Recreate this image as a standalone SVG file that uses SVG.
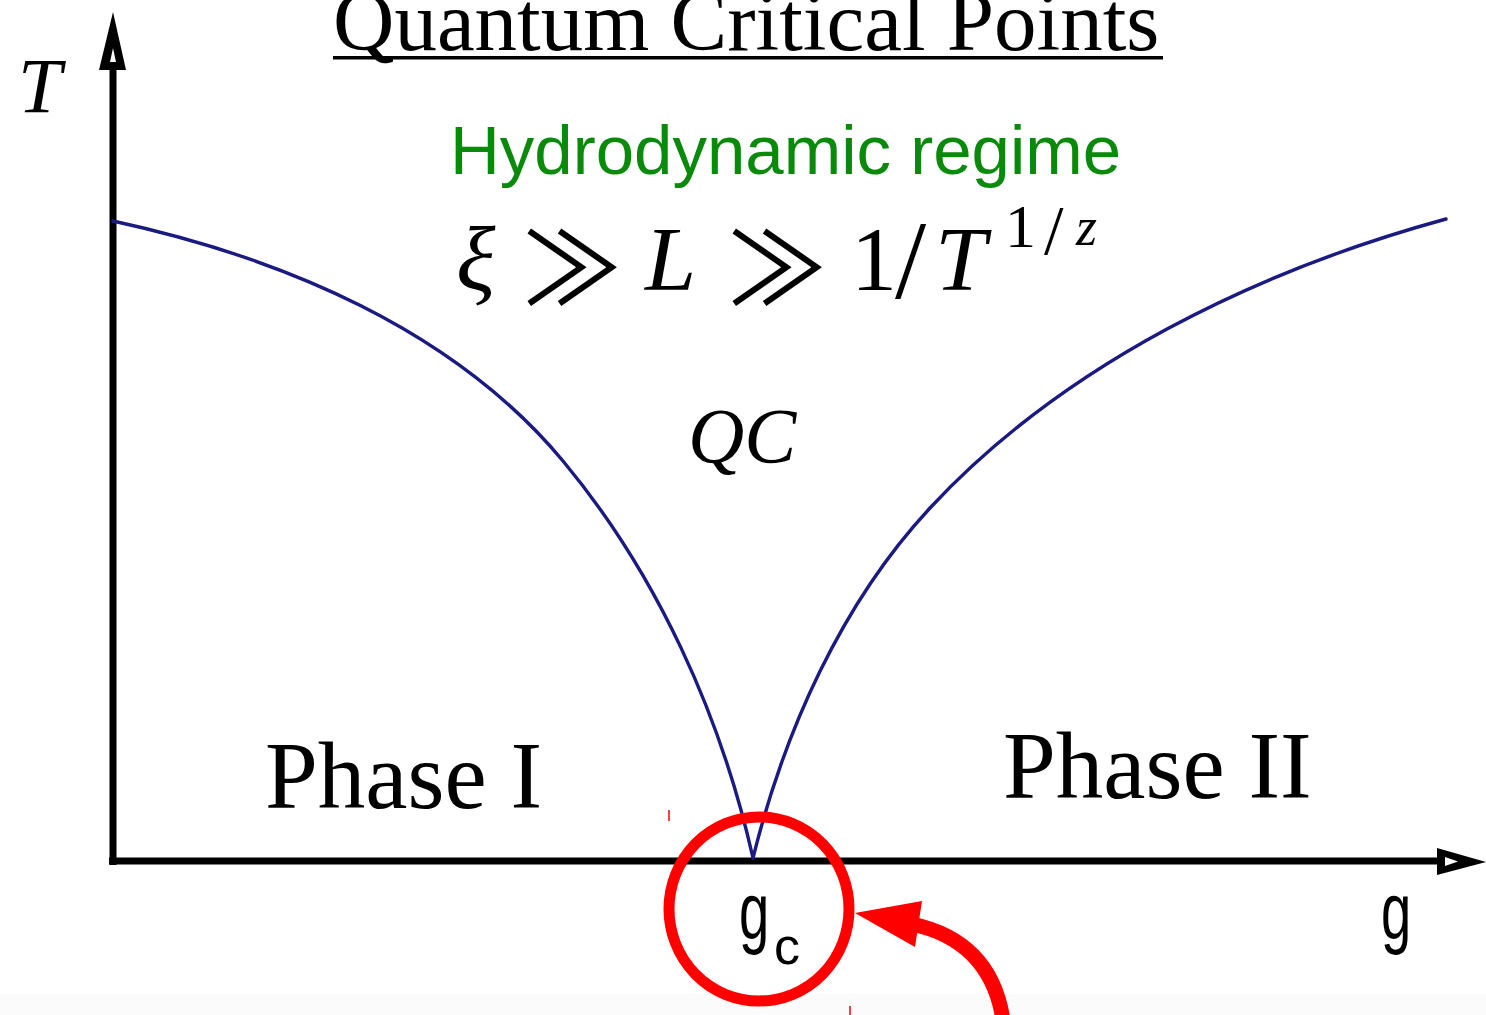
<svg xmlns="http://www.w3.org/2000/svg" width="1486" height="1015" viewBox="0 0 1486 1015">
  <style>
    .serif { font-family: "Liberation Serif", "DejaVu Serif", serif; fill: #000; }
    .ital { font-family: "Liberation Serif", "DejaVu Serif", serif; font-style: italic; fill: #000; }
    .sym { font-family: "Noto Sans CJK JP", "DejaVu Serif", serif; fill: #000; }
    .sans { font-family: "Liberation Sans", Arial, sans-serif; fill: #000; }
    .axis { stroke: #000; stroke-width: 7; fill: none; }
    .curve { stroke: #1a1a82; stroke-width: 3.4; fill: none; stroke-linecap: round; }
    .red { stroke: #ff0000; fill: none; }
  </style>
  <rect x="0" y="0" width="1486" height="1015" fill="#ffffff"/>
  <rect x="0" y="994" width="1486" height="21" fill="#fbfbfb"/>

  <g id="title">
    <text class="serif" x="333" y="50" font-size="85">Quantum Critical Points</text>
    <rect x="333" y="56" width="830" height="3.5" fill="#000"/>
  </g>

  <g id="axes">
    <line class="axis" x1="113" y1="865" x2="113" y2="60"/>
    <polygon points="113,12 126,70 99,70" fill="#000"/>
    <polygon points="113,48 116,62 110,62" fill="#fff"/>
    <line class="axis" x1="109" y1="861" x2="1445" y2="861"/>
    <polygon points="1437,848 1486,862 1437,875" fill="#000"/>
    <polygon points="1445,857 1458,861.5 1445,866" fill="#fff"/>
    <text class="ital" x="18" y="112" font-size="78">T</text>
    <text class="sans" transform="translate(1381,938) scale(0.68,1)" font-size="80">g</text>
  </g>

  <g id="connectors">
    <path class="curve" d="M113,221 C283,258 454,330 563,461 C657,574 720.7,714.7 753,858"/>
    <path class="curve" d="M753,858 C784,732 841.6,602.9 930,508 C1064,364 1256,271 1446,219"/>
  </g>

  <g id="hydrodynamic">
    <text class="sans" x="450" y="174" font-size="69" style="fill:#0a8a0a">Hydrodynamic regime</text>
  </g>

  <g id="equation">
    <text class="ital" x="456" y="290" font-size="92">ξ</text>
    <text class="sym" x="522" y="305" font-size="100">≫</text>
    <text class="ital" x="645" y="290" font-size="92">L</text>
    <text class="sym" x="727" y="305" font-size="100">≫</text>
    <text class="serif" x="851" y="290" font-size="92">1</text>
    <text class="serif" x="895" y="298" font-size="112">/</text>
    <text class="ital" x="935" y="290" font-size="92">T</text>
    <text class="serif" x="1005" y="247" font-size="62">1</text>
    <text class="serif" x="1044" y="254" font-size="70">/</text>
    <text class="ital" x="1076" y="245" font-size="54">z</text>
  </g>

  <g id="qc">
    <text class="ital" x="688" y="462" font-size="78">QC</text>
  </g>

  <g id="phase-1">
    <text class="serif" x="265" y="808" font-size="95">Phase I</text>
  </g>

  <g id="phase-2">
    <text class="serif" x="1003" y="798" font-size="95">Phase II</text>
  </g>

  <g id="gc">
    <text class="sans" transform="translate(739,938) scale(0.68,1)" font-size="80">g</text>
    <text class="sans" x="774" y="964" font-size="52">c</text>
  </g>

  <g id="highlight">
    <ellipse class="red" cx="759" cy="909" rx="90" ry="92" stroke-width="11"/>
    <line class="red" x1="669" y1="810" x2="669" y2="821" stroke-width="1.5"/>
    <line class="red" x1="850" y1="1006" x2="850" y2="1015" stroke-width="1.5"/>
  </g>

  <g id="red-arrow">
    <path class="red" d="M1003,1020 Q991,941 912,924" stroke-width="15"/>
    <polygon points="855,913 922,901 915,947" fill="#ff0000"/>
  </g>
</svg>
